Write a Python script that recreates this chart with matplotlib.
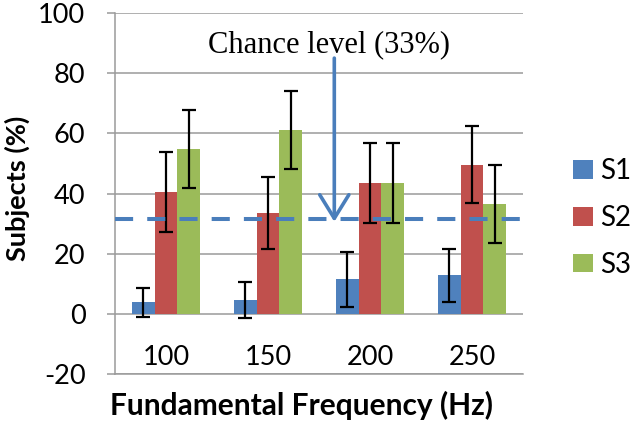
import numpy as np
import matplotlib
matplotlib.use("Agg")
import matplotlib.pyplot as pl

# data
categories = ['100', '150', '200', '250']
series = ['S1', 'S2', 'S3']
s1_vals = [3.8, 4.7, 11.5, 12.8]
s1_err = [4.8, 6.0, 9.1, 8.8]
s2_vals = [40.5, 33.5, 43.5, 49.6]
s2_err = [13.3, 12.1, 13.3, 12.9]
s3_vals = [54.8, 61.0, 43.5, 36.6]
s3_err = [13.0, 13.0, 13.3, 13.0]
chance = 31.5

colors = ['#4f81bd', '#c0504d', '#9bbb59']
grid_c = '#9a9a9a'
arrow_c = '#4a7ebb'

pl.rcParams['font.family'] = ['Lato', 'DejaVu Sans']
pl.rcParams['axes.unicode_minus'] = False

#--------------------------------------------------------------------------------------------

fig = pl.figure(figsize=(6.30, 4.21), dpi=100)
ax = fig.add_axes([115/630., 1 - 374/421., 408/630., 361/421.])

x = np.arange(len(categories))
w = 0.223
vals = [s1_vals, s2_vals, s3_vals]
errs = [s1_err, s2_err, s3_err]
for i in range(3):
    ax.bar(x + (i - 1)*w, vals[i], w, color=colors[i], label=series[i], zorder=3,
           yerr=errs[i], error_kw=dict(ecolor='k', elinewidth=1.6, capsize=4.8, capthick=1.6, zorder=4))

ax.set_xlim(-0.5, 3.5)
ax.set_ylim(-20, 100)
ax.set_yticks(np.arange(-20, 101, 20))
ax.set_xticks(x)
ax.set_xticklabels(categories)
ax.yaxis.grid(True, color=grid_c, lw=1.1, zorder=0)

for s in ['top', 'right']:
    ax.spines[s].set_visible(False)
for s in ['left', 'bottom']:
    ax.spines[s].set_color(grid_c)
    ax.spines[s].set_linewidth(1.1)

ax.tick_params(axis='y', length=5.8, width=1.1, color=grid_c, pad=15.5, labelsize=19.5)
ax.tick_params(axis='x', length=0, pad=-12.2, labelsize=19.5)
for t in ax.get_xticklabels():
    t.set_va('center')

# chance level
ax.axhline(chance, color=arrow_c, lw=2.9, dashes=(4.5, 3.5), zorder=5)
ax.annotate('', xy=(1.65, 30.6), xytext=(1.65, 85.0),
            arrowprops=dict(arrowstyle='->,head_length=17,head_width=10.5', mutation_scale=1,
                            color=arrow_c, lw=2.6, shrinkA=0, shrinkB=0), zorder=6)
ax.text(1.597, 89.4, 'Chance level (33%)', family='Liberation Serif', fontsize=22,
        ha='center', va='center', zorder=6)

ax.set_xlabel('Fundamental Frequency (Hz)', fontsize=21.5, fontweight='bold', va='center')
ax.set_ylabel('Subjects (%)', fontsize=19.5, fontweight='bold', va='center')
ax.xaxis.set_label_coords((302 - 115)/408., (374 - 405)/361.)
ax.yaxis.set_label_coords((17 - 115)/408., (374 - 188)/361.)

ax.legend(loc='center left', bbox_to_anchor=(573/630., 1 - 218/421.), bbox_transform=fig.transFigure,
          frameon=False, fontsize=20, borderpad=0, borderaxespad=0,
          handlelength=0.72, handleheight=0.65, handletextpad=0.25, labelspacing=0.75)

fig.savefig('out.png', dpi=100)
